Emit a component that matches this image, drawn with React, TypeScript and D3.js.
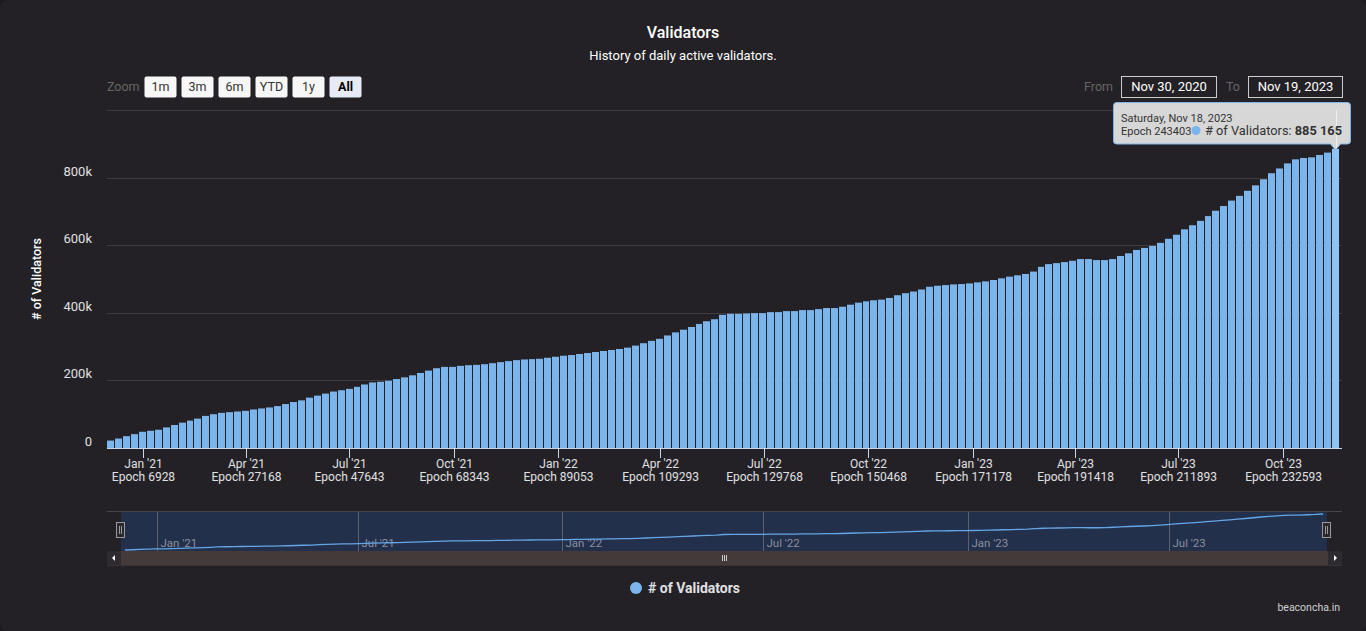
import React from 'react';
import * as d3 from 'd3';

// weekly samples of active validators (thousands), from Nov 30 2020
const validators: number[] = [
  22, 28, 35, 41, 48, 51, 54, 61, 68, 75,
  81, 87, 95, 100, 104, 106, 108, 110, 114, 117,
  120, 124, 130, 136, 141, 149, 155, 161, 167, 171,
  175, 181, 188, 194, 196, 199, 204, 209, 215, 222,
  229, 236, 240, 240, 243, 245, 246, 248, 251, 254,
  257, 260, 262, 263, 264, 267, 270, 273, 275, 278,
  281, 284, 287, 290, 293, 297, 303, 310, 317, 323,
  333, 342, 350, 358, 367, 375, 381,
  394, 397, 397, 398, 399, 399, 402, 402, 405, 405,
  408, 408, 411, 414, 414, 418, 424, 430, 434, 437,
  439, 444, 452, 458, 463, 469, 477, 480, 482, 484,
  485, 487, 490, 493, 497, 502, 507, 511, 515, 522,
  536, 544, 547, 550, 554, 559, 559, 556, 556, 559,
  568, 576, 586, 592, 598, 607, 619, 631, 647, 659,
  672, 686, 702, 716, 732, 746, 761, 777, 795, 813,
  827, 842, 854, 858, 860, 867, 874, 885.165,
];

const xTicks = ['2021-01-01', '2021-04-01', '2021-07-01', '2021-10-01', '2022-01-01', '2022-04-01',
  '2022-07-01', '2022-10-01', '2023-01-01', '2023-04-01', '2023-07-01', '2023-10-01'];
const xEpochs = [6928, 27168, 47643, 68343, 89053, 109293, 129768, 150468, 171178, 191418, 211893, 232593];
const navTicks = ['2021-01-01', '2021-07-01', '2022-01-01', '2022-07-01', '2023-01-01', '2023-07-01'];
const yTicks = [0, 200, 400, 600, 800, 1000];
const zoomButtons = ['1m', '3m', '6m', 'YTD', '1y', 'All'];

const DAY = 864e5;
const start = Date.UTC(2020, 10, 30);
const font = 'Roboto, "Noto Sans", sans-serif';
const barColor = '#7cb5ec';

export default function App() {
  const x = d3.scaleUtc().domain([new Date(start), new Date(Date.UTC(2023, 10, 22))]).range([107, 1342]);
  const y = d3.scaleLinear().domain([0, 1000]).range([448, 110]);
  const nx = d3.scaleUtc().domain([new Date(start), new Date(Date.UTC(2023, 10, 20))]).range([121, 1327]);
  const ny = d3.scaleLinear().domain([d3.min(validators)!, d3.max(validators)!]).range([550, 514]);
  const fmt = d3.utcFormat("%b '%y");

  const bars = validators.map((v, i) => {
    const s = new Date(start + i * 7 * DAY);
    const e = new Date(start + (i + 1) * 7 * DAY);
    const x0 = Math.round(x(s));
    const x1 = Math.round(x(e));
    return { v, x0, w: Math.max(1, x1 - x0 - 1), last: i === validators.length - 1 };
  });

  const navLine = d3.line<number>()
    .x((_, i) => nx(new Date(start + (i * 7 + 3.5) * DAY)))
    .y(v => ny(v))(validators)!;

  const lastBar = bars[bars.length - 1];
  const tipX = lastBar.x0 + lastBar.w / 2;
  const tipY = y(lastBar.v);
  const lastValue = d3.format(',')(Math.round(validators[validators.length - 1] * 1000)).replace(/,/g, ' ');

  return (
    <div style={{ position: 'absolute', left: 0, top: 0, width: 1366, height: 631, background: '#1c1b1f' }}>
      <svg width={1366} height={631} style={{ display: 'block', fontFamily: font }}>
        <rect x={0} y={0} width={1366} height={631} rx={8} fill="#232125" />
        <text x={683} y={38} textAnchor="middle" fill="#ffffff" fontSize={16} fontWeight={500}>Validators</text>
        <text x={683} y={60} textAnchor="middle" fill="#ffffff" fontSize={13}>History of daily active validators.</text>

        {/* range selector */}
        <text x={107} y={91} fill="#666666" fontSize={12.5}>Zoom</text>
        {zoomButtons.map((b, i) => {
          const bx = 144 + i * 37;
          const sel = b === 'All';
          return (
            <g key={b}>
              <rect x={bx + 0.5} y={76.5} width={32} height={21} rx={2} fill={sel ? '#e6ebf5' : '#f7f7f7'} />
              <text x={bx + 16.5} y={91} textAnchor="middle" fontSize={12.5} fill={sel ? '#000000' : '#333333'}
                fontWeight={sel ? 700 : 400}>{b}</text>
            </g>
          );
        })}
        <text x={1113} y={91} textAnchor="end" fill="#666666" fontSize={12.5}>From</text>
        <rect x={1121.5} y={76.5} width={95} height={21} fill="none" stroke="#cccccc" />
        <text x={1169} y={91} textAnchor="middle" fill="#ffffff" fontSize={13}>Nov 30, 2020</text>
        <text x={1240} y={91} textAnchor="end" fill="#666666" fontSize={12.5}>To</text>
        <rect x={1248.5} y={76.5} width={94} height={21} fill="none" stroke="#cccccc" />
        <text x={1295.5} y={91} textAnchor="middle" fill="#ffffff" fontSize={13}>Nov 19, 2023</text>

        {/* grid */}
        {yTicks.filter(t => t > 0).map(t => (
          <line key={t} x1={107} x2={1342} y1={Math.round(y(t)) + 0.5} y2={Math.round(y(t)) + 0.5} stroke="#403b3f" />
        ))}
        {yTicks.filter(t => t < 1000).map(t => (
          <text key={t} x={92} y={y(t) - 2} textAnchor="end" fill="#e0e0e3" fontSize={13}>
            {t === 0 ? '0' : `${t}k`}
          </text>
        ))}
        <text transform="translate(41,279) rotate(-90)" textAnchor="middle" fill="#ffffff" fontSize={12.5}
          fontWeight={500}># of Validators</text>

        {/* bars */}
        {bars.map((b, i) => (
          <rect key={i} x={b.x0} y={y(b.v)} width={b.w} height={448 - y(b.v)}
            fill={b.last ? '#8fc3f3' : barColor} />
        ))}

        {/* x axis */}
        <line x1={107} x2={1342} y1={448.5} y2={448.5} stroke="#ccd6eb" />
        {xTicks.map((t, i) => {
          const d = new Date(t + 'T00:00:00Z');
          const tx = Math.round(x(d)) + 0.5;
          return (
            <g key={t}>
              <line x1={tx} x2={tx} y1={448} y2={458} stroke="#ccd6eb" />
              <text x={tx} y={468} textAnchor="middle" fill="#e0e0e3" fontSize={12}>{fmt(d)}</text>
              <text x={tx} y={481} textAnchor="middle" fill="#e0e0e3" fontSize={12}>Epoch {xEpochs[i]}</text>
            </g>
          );
        })}

        {/* navigator */}
        <rect x={121} y={511} width={1206} height={40} fill="#22304b" />
        {navTicks.map(t => {
          const d = new Date(t + 'T00:00:00Z');
          const tx = Math.round(nx(d)) + 0.5;
          return (
            <g key={t}>
              <line x1={tx} x2={tx} y1={511} y2={551} stroke="#5d6070" />
              <text x={tx + 3} y={547} fill="#8a8f9e" fontSize={11.5}>{fmt(d)}</text>
            </g>
          );
        })}
        <path d={navLine} fill="none" stroke="#64a6e6" strokeWidth={1.3} />
        <line x1={107} x2={1342} y1={511.5} y2={511.5} stroke="#4a4446" />
        {[121, 1327].map(hx => (
          <g key={hx}>
            <rect x={hx - 4.5} y={522.5} width={8} height={15} fill="#2a2a2e" stroke="#999999" />
            <line x1={hx - 1.5} x2={hx - 1.5} y1={526} y2={534} stroke="#999999" />
            <line x1={hx + 0.5} x2={hx + 0.5} y1={526} y2={534} stroke="#999999" />
          </g>
        ))}
        {/* scrollbar */}
        <rect x={107} y={551} width={1235} height={14} fill="#443a3a" />
        <rect x={107} y={551} width={14} height={14} fill="#2d2b2f" />
        <rect x={1328} y={551} width={14} height={14} fill="#2d2b2f" />
        <line x1={107} x2={1342} y1={565.5} y2={565.5} stroke="#3a3336" />
        <path d="M 115 555 L 112 558 L 115 561 Z" fill="#ffffff" />
        <path d="M 1334 555 L 1337 558 L 1334 561 Z" fill="#ffffff" />
        {[-2, 0, 2].map(o => (
          <line key={o} x1={724.5 + o} x2={724.5 + o} y1={555} y2={561} stroke="#cccccc" />
        ))}

        {/* legend */}
        <circle cx={636} cy={588} r={6} fill={barColor} />
        <text x={648} y={592.5} fill="#e0e0e3" fontSize={14} fontWeight={700}># of Validators</text>
        <text x={1340} y={611} textAnchor="end" fill="#d0d0d0" fontSize={10.5}>beaconcha.in</text>

        {/* tooltip */}
        <line x1={Math.round(tipX) + 0.5} x2={Math.round(tipX) + 0.5} y1={110} y2={tipY} stroke="#ffffff" strokeOpacity={0.7} />
        <path
          d={`M 1116.5 102.5 L 1347.5 102.5 Q 1350.5 102.5 1350.5 105.5 L 1350.5 141 Q 1350.5 144 1347.5 144
              L ${tipX + 5} 144 L ${tipX} 150 L ${tipX - 5} 144 L 1116.5 144 Q 1113.5 144 1113.5 141
              L 1113.5 105.5 Q 1113.5 102.5 1116.5 102.5 Z`}
          fill="#f7f7f7" fillOpacity={0.85} stroke={barColor} />
        <text x={1121} y={122} fill="#333333" fontSize={11}>Saturday, Nov 18, 2023</text>
        <text x={1121} y={135} fill="#333333" fontSize={11}>Epoch 243403</text>
        <circle cx={1196} cy={130.5} r={4.5} fill={barColor} />
        <text x={1205} y={135} fill="#333333" fontSize={12.8}>
          # of Validators: <tspan fontWeight={700}>{lastValue}</tspan>
        </text>
      </svg>
    </div>
  );
}
